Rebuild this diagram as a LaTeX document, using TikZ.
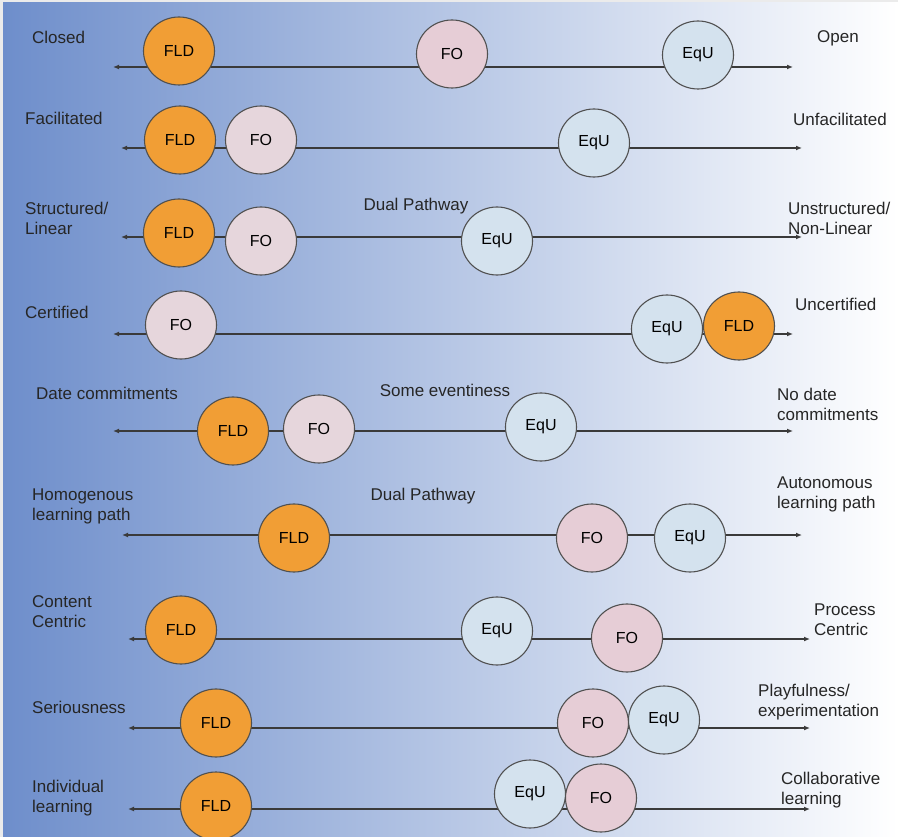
\documentclass[tikz,border=0pt]{standalone}
\usepackage{fontspec}
\setmainfont{Liberation Sans}
\usetikzlibrary{arrows.meta,shapes.geometric}

\definecolor{bgblue}{HTML}{6E8ECB}
\definecolor{fldorange}{HTML}{F19E35}
\definecolor{fopink}{HTML}{E6D6DC}
\definecolor{forose}{HTML}{E6CDD6}
\definecolor{equblue}{HTML}{D4E2EE}
\definecolor{rimgray}{HTML}{505050}
\definecolor{axisgray}{HTML}{3A3A3A}

\begin{document}
\begin{tikzpicture}[x=1pt, y=-1pt,
  dot/.style={ellipse, draw=rimgray, line width=1.1pt, minimum width=71pt, minimum height=68pt, inner sep=0pt, font=\fontsize{16}{18}\selectfont},
  fld/.style={dot, fill=fldorange},
  fo/.style={dot, fill=fopink},
  rose/.style={dot, fill=forose},
  equ/.style={dot, fill=equblue},
  pole/.style={font=\fontsize{17}{20}\selectfont, align=left, anchor=west, inner sep=0pt, text=black!85},
  mid/.style={font=\fontsize{17}{20}\selectfont, inner sep=0pt, text=black!85},
  axis/.style={{Latex[length=6pt,width=5pt]}-{Latex[length=6pt,width=5pt]}, draw=axisgray, line width=1.3pt}
]
  \useasboundingbox (0,0) rectangle (898,837);
  \fill[black!8] (0,0) rectangle (898,837);
  \shade[left color=bgblue, right color=white] (3,3) rectangle (898,837);

  % Closed / Open
  \coordinate (a1) at (113,67);  \coordinate (b1) at (793,67);
  \draw[axis] (a1) -- (b1);
  \node[fld]  (fld1) at (179,51) {FLD};
  \node[rose] (fo1)  at (452,54) {FO};
  \node[equ]  (equ1) at (698,55) {EqU};
  \node[pole] (l1) at (32,37)  {Closed};
  \node[pole] (r1) at (817,38) {Open};

  % Facilitated / Unfacilitated
  \coordinate (a2) at (121,148); \coordinate (b2) at (802,148);
  \draw[axis] (a2) -- (b2);
  \node[fld] (fld2) at (180,140) {FLD};
  \node[fo]  (fo2)  at (261,140) {FO};
  \node[equ] (equ2) at (594,143) {EqU};
  \node[pole] (l2) at (25,118)  {Facilitated};
  \node[pole] (r2) at (793,119) {Unfacilitated};

  % Structured / Unstructured
  \coordinate (a3) at (121,237); \coordinate (b3) at (802,237);
  \draw[axis] (a3) -- (b3);
  \node[fld] (fld3) at (179,233) {FLD};
  \node[fo]  (fo3)  at (261,241) {FO};
  \node[equ] (equ3) at (497,241) {EqU};
  \node[pole] (l3) at (25,218)  {Structured/\\Linear};
  \node[pole] (r3) at (788,218) {Unstructured/\\Non-Linear};
  \node[mid]  (m3) at (416,206) {Dual Pathway};

  % Certified / Uncertified
  \coordinate (a4) at (113,334); \coordinate (b4) at (793,334);
  \draw[axis] (a4) -- (b4);
  \node[fo]  (fo4)  at (181,325) {FO};
  \node[equ] (equ4) at (667,329) {EqU};
  \node[fld] (fld4) at (739,326) {FLD};
  \node[pole] (l4) at (25,312)  {Certified};
  \node[pole] (r4) at (795,304) {Uncertified};

  % Date commitments
  \coordinate (a5) at (113,431); \coordinate (b5) at (793,431);
  \draw[axis] (a5) -- (b5);
  \node[fld] (fld5) at (233,431) {FLD};
  \node[fo]  (fo5)  at (319,429) {FO};
  \node[equ] (equ5) at (541,427) {EqU};
  \node[pole] (l5) at (36,393)  {Date commitments};
  \node[pole] (r5) at (777,404) {No date\\commitments};
  \node[mid]  (m5) at (445,390) {Some eventiness};

  % Learning path
  \coordinate (a6) at (122,535); \coordinate (b6) at (802,535);
  \draw[axis] (a6) -- (b6);
  \node[fld]  (fld6) at (294,538) {FLD};
  \node[rose] (fo6)  at (592,538) {FO};
  \node[equ]  (equ6) at (690,538) {EqU};
  \node[pole] (l6) at (32,506)  {Homogenous\\learning path};
  \node[pole] (r6) at (777,494) {Autonomous\\learning path};
  \node[mid]  (m6) at (423,496) {Dual Pathway};

  % Content / Process
  \coordinate (a7) at (128,639); \coordinate (b7) at (810,639);
  \draw[axis] (a7) -- (b7);
  \node[fld]  (fld7) at (181,630) {FLD};
  \node[equ]  (equ7) at (497,631) {EqU};
  \node[rose] (fo7)  at (627,638) {FO};
  \node[pole] (l7) at (32,612)  {Content\\Centric};
  \node[pole] (r7) at (814,620) {Process\\Centric};

  % Seriousness / Playfulness
  \coordinate (a8) at (128,728); \coordinate (b8) at (810,728);
  \draw[axis] (a8) -- (b8);
  \node[fld]  (fld8) at (216,723) {FLD};
  \node[rose] (fo8)  at (593,723) {FO};
  \node[equ]  (equ8) at (664,720) {EqU};
  \node[pole] (l8) at (32,707)  {Seriousness};
  \node[pole] (r8) at (758,702) {Playfulness/\\experimentation};

  % Individual / Collaborative
  \coordinate (a9) at (128,809); \coordinate (b9) at (810,809);
  \draw[axis] (a9) -- (b9);
  \node[fld]  (fld9) at (216,806) {FLD};
  \node[equ]  (equ9) at (530,794) {EqU};
  \node[rose] (fo9)  at (601,798) {FO};
  \node[pole] (l9) at (32,798)  {Individual\\learning};
  \node[pole] (r9) at (781,790) {Collaborative\\learning};
\end{tikzpicture}
\end{document}
